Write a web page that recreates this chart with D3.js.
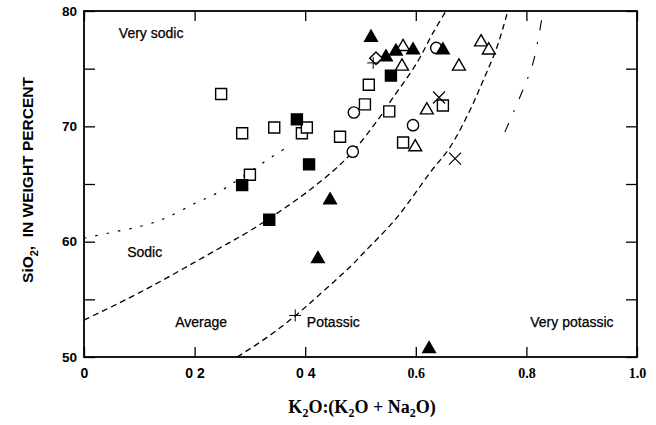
<!DOCTYPE html>
<html lang="en">
<head>
<meta charset="utf-8">
<title>SiO2 vs K2O:(K2O + Na2O)</title>
<style>
  body { margin: 0; background: #fff; }
  svg { display: block; }
  text { fill: #000; }
  .region { font-family: "Liberation Sans", Arial, sans-serif; font-size: 14px; stroke: #000; stroke-width: 0.25; }
  .ytick text { font-family: "Liberation Sans", Arial, sans-serif; font-weight: bold; font-size: 13.5px; }
  .xtick text { font-weight: bold; font-size: 14px; }
  .ytitle { font-family: "Liberation Sans", Arial, sans-serif; font-weight: bold; font-size: 15.5px; }
  .xtitle { font-family: "Liberation Serif", "Times New Roman", serif; font-weight: bold; font-size: 18px; }
</style>
</head>
<body>
<svg width="656" height="425"></svg>
<script src="https://d3js.org/d3.v7.min.js"></script>
<script>
// ratio K2O:(K2O+Na2O), SiO2 wt%
const openSquares = [[0.248,72.8],[0.286,69.4],[0.344,69.9],[0.394,69.4],[0.403,69.9],[0.300,65.8],
  [0.463,69.1],[0.515,73.6],[0.508,71.9],[0.552,71.3],[0.649,71.8],[0.577,68.6]];
const filledSquares = [[0.286,64.9],[0.385,70.6],[0.407,66.7],[0.335,61.9],[0.555,74.4]];
const filledTriangles = [[0.519,77.7],[0.546,76.0],[0.564,76.5],[0.595,76.6],[0.649,76.6],
  [0.445,63.6],[0.423,58.5],[0.624,50.7]];
const openTriangles = [[0.577,76.9],[0.575,75.2],[0.678,75.2],[0.718,77.3],[0.732,76.6],[0.620,71.4],[0.599,68.2]];
const openCircles = [[0.488,71.2],[0.486,67.8],[0.637,76.8],[0.595,70.1]];
const crosses = [[0.642,72.5],[0.671,67.2]];
const pluses = [[0.382,53.6],[0.523,75.5]];
const diamonds = [[0.528,75.9]];

// boundary curves
const veryNaLine = [[0,60.3],[0.06,60.9],[0.108,61.4],[0.15,62.1],[0.204,63.4],[0.24,64.2],[0.338,67.3],[0.367,68.2]];
const sodicLine = [[0,53.2],[0.06,54.6],[0.121,56.1],[0.181,57.7],[0.24,59.3],[0.302,61.0],[0.392,63.9],
  [0.452,66.2],[0.486,67.8],[0.535,70.8],[0.559,72.5],[0.602,75.5],[0.631,78.1],[0.656,80.1]];
const potassicLine = [[0.277,50],[0.331,51.7],[0.38,53.5],[0.421,55.2],[0.483,57.9],[0.505,59.0],
  [0.566,62.1],[0.626,66.0],[0.662,68.2],[0.698,71.4],[0.722,74.0],[0.747,76.9],[0.767,80.1]];
const veryKLine = [[0.761,69.5],[0.794,73.2],[0.812,75.5],[0.830,79.8],[0.832,80.1]];

const xTicks = [0, 0.2, 0.4, 0.6, 0.8, 1.0];
const xTickLabels = ["0", "0 2", "0 4", "0.6", "0.8", "1.0"];
const yTicks = [50, 55, 60, 65, 70, 75, 80];
const yTickLabels = ["50", "", "60", "", "70", "", "80"];

const regions = [
  {text: "Very sodic", x: 0.063, y: 77.7},
  {text: "Sodic", x: 0.078, y: 58.7},
  {text: "Average", x: 0.165, y: 52.6},
  {text: "Potassic", x: 0.403, y: 52.6},
  {text: "Very potassic", x: 0.807, y: 52.6}
];

const svg = d3.select("svg");
const pLeft = 84, pRight = 637, pTop = 11, pBottom = 357;
const x = d3.scaleLinear().domain([0, 1]).range([pLeft, pRight]);
const y = d3.scaleLinear().domain([50, 80]).range([pBottom, pTop]);

svg.append("defs").append("clipPath").attr("id", "plot")
  .append("rect").attr("x", pLeft).attr("y", pTop).attr("width", pRight - pLeft).attr("height", pBottom - pTop);

// axes: inward ticks on all four sides
const xb = svg.append("g").attr("class", "xtick").attr("transform", `translate(0,${pBottom})`)
  .call(d3.axisBottom(x).tickValues(xTicks).tickSize(-10).tickPadding(11)
    .tickFormat((d, i) => xTickLabels[i]));
xb.selectAll("text").style("font-family", (d, i) => i < 3 ? '"Liberation Sans", Arial, sans-serif' : '"Liberation Serif", "Times New Roman", serif');
svg.append("g").attr("transform", `translate(0,${pTop})`)
  .call(d3.axisTop(x).tickValues(xTicks).tickSize(-10).tickFormat(""));
svg.append("g").attr("class", "ytick").attr("transform", `translate(${pLeft},0)`)
  .call(d3.axisLeft(y).tickValues(yTicks).tickSize(-11).tickPadding(7)
    .tickFormat((d, i) => yTickLabels[i]));
svg.append("g").attr("transform", `translate(${pRight},0)`)
  .call(d3.axisRight(y).tickValues(yTicks).tickSize(-11).tickFormat(""));
svg.selectAll(".domain").remove();
svg.selectAll(".tick line").attr("stroke", "#000").attr("stroke-width", 1.3);

svg.append("rect").attr("x", pLeft).attr("y", pTop).attr("width", pRight - pLeft).attr("height", pBottom - pTop)
  .attr("fill", "none").attr("stroke", "#000").attr("stroke-width", 1.8);

// boundary curves
const line = d3.line().x(d => x(d[0])).y(d => y(d[1])).curve(d3.curveCatmullRom);
const curves = svg.append("g").attr("clip-path", "url(#plot)").attr("fill", "none").attr("stroke", "#000");
curves.append("path").datum(veryNaLine).attr("d", line).attr("stroke-width", 1.2).attr("stroke-dasharray", "2.5,9");
curves.append("path").datum(sodicLine).attr("d", line).attr("stroke-width", 1.3).attr("stroke-dasharray", "6,4");
curves.append("path").datum(potassicLine).attr("d", line).attr("stroke-width", 1.3).attr("stroke-dasharray", "6,4");
curves.append("path").datum(veryKLine).attr("d", line).attr("stroke-width", 1.1).attr("stroke-dasharray", "10,12,2,12");

// region labels
svg.append("g").selectAll("text").data(regions).enter().append("text")
  .attr("class", "region").attr("x", d => x(d.x)).attr("y", d => y(d.y)).text(d => d.text);

// points
const pts = svg.append("g").attr("stroke", "#000").attr("stroke-width", 1.4);
function symbols(data, type, size, fill, rotate) {
  pts.append("g").selectAll("path").data(data).enter().append("path")
    .attr("transform", d => `translate(${x(d[0])},${y(d[1])})` + (rotate ? ` rotate(${rotate})` : ""))
    .attr("d", d3.symbol().type(type).size(size))
    .attr("fill", fill);
}
symbols(openSquares, d3.symbolSquare, 121, "#fff");
symbols(filledSquares, d3.symbolSquare, 121, "#000");
symbols(openCircles, d3.symbolCircle, 100, "#fff");
symbols(openTriangles, d3.symbolTriangle, 72, "#fff");
symbols(filledTriangles, d3.symbolTriangle, 70, "#000");
symbols(diamonds, d3.symbolSquare, 80, "#fff", 45);

pts.append("g").selectAll("path").data(crosses).enter().append("path")
  .attr("d", d => { const cx = x(d[0]), cy = y(d[1]), r = 6;
    return `M${cx - r},${cy - r}L${cx + r},${cy + r}M${cx - r},${cy + r}L${cx + r},${cy - r}`; })
  .attr("stroke-width", 1.2);
pts.append("g").selectAll("path").data(pluses).enter().append("path")
  .attr("d", d => { const cx = x(d[0]), cy = y(d[1]), r = 6;
    return `M${cx - r},${cy}L${cx + r},${cy}M${cx},${cy - r}L${cx},${cy + r}`; })
  .attr("stroke-width", 1);

// axis titles
const yt = svg.append("text").attr("class", "ytitle")
  .attr("transform", "translate(33,180) rotate(-90)").attr("text-anchor", "middle");
yt.append("tspan").text("SiO");
yt.append("tspan").attr("dy", 5).style("font-size", "11px").text("2");
yt.append("tspan").attr("dy", -5).text(",\u00a0\u00a0IN WEIGHT PERCENT");

const xt = svg.append("text").attr("class", "xtitle")
  .attr("x", 362).attr("y", 413).attr("text-anchor", "middle");
[["K", 0], ["2", 4], ["O:(K", -4], ["2", 4], ["O + Na", -4], ["2", 4], ["O)", -4]].forEach(([t, dy]) => {
  const s = xt.append("tspan").attr("dy", dy).text(t);
  if (t === "2") s.style("font-size", "12px");
});
</script>
</body>
</html>
